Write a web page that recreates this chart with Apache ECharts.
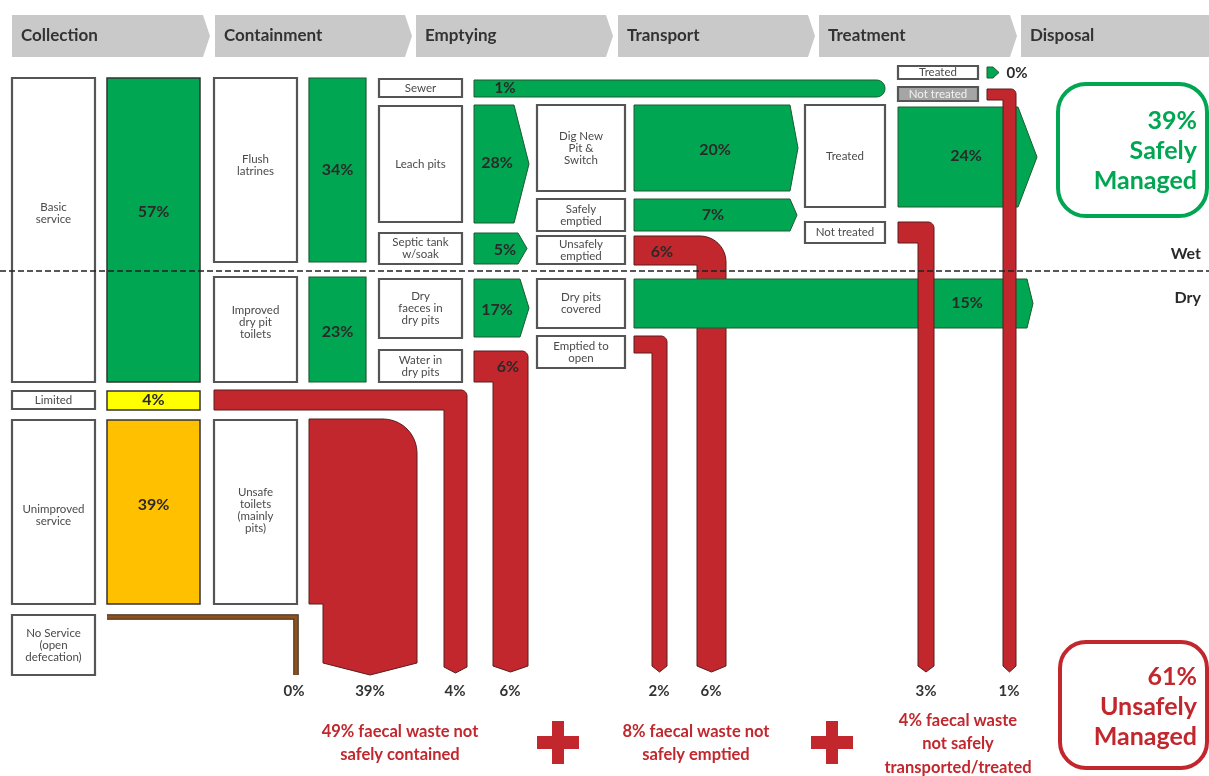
<!DOCTYPE html>
<html><head><meta charset="utf-8">
<script src="https://cdn.jsdelivr.net/npm/echarts@6/dist/echarts.min.js"></script>
<style>html,body{margin:0;padding:0;background:#fff}#c{width:1209px;height:776px}</style>
</head><body><div id="c"></div>
<script>
// ================= DATA =================
const stageNames = ['Collection','Containment','Emptying','Transport','Treatment','Disposal'];
const collectionLabels = ['Basic\nservice','Limited','Unimproved\nservice','No Service\n(open\ndefecation)'];
const collectionValues = [57, 4, 39, 0];
const containmentLabels = ['Flush\nlatrines','Improved\ndry pit\ntoilets','Unsafe\ntoilets\n(mainly\npits)'];
const containmentValues = [34, 23, 39];
const emptyingLabels = ['Sewer','Leach pits','Septic tank\nw/soak','Dry\nfaeces in\ndry pits','Water in\ndry pits'];
const emptyingValues = [1, 28, 5, 17, 6];
const transportLabels = ['Dig New\nPit &\nSwitch','Safely\nemptied','Unsafely\nemptied','Dry pits\ncovered','Emptied to\nopen'];
const transportValues = [20, 7, 6, 15, 2];
const treatmentLabels = ['Treated','Not treated','Treated','Not treated'];
const treatmentValues = [24, 3, 0, 1];
const unsafeValues = [0, 39, 4, 6, 2, 6, 3, 1];
const unsafeGroupValues = [49, 8, 4];
const unsafeGroupTexts = [' faecal waste not\nsafely contained', ' faecal waste not\nsafely emptied', ' faecal waste\nnot safely\ntransported/treated'];
const summaryValues = [39, 61];
const summaryLabels = ['Safely\nManaged', 'Unsafely\nManaged'];
const zoneLabels = ['Wet', 'Dry'];

// ================= LAYOUT (geometry & style) =================
const GREEN = '#00a651', RED = '#c1272d', ORANGE = '#ffc000', YELLOW = '#ffff00',
      BROWN = '#8c5220', HEAD = '#c9c9c9', BORDER = '#555555', DARK = '#2a2a2a';
const FONT = 'Lato, "Open Sans", sans-serif';

const headerLayout = {y0: 15, y1: 57, tip: 7, segs: [[12,203],[215,405],[416,606],[618,808],[819,1010],[1021,1215]]};
const collBoxLayout = [[12,78,95,382,213],[12,391,95,409,400],[12,420,95,604,515],[12,615,95,675,645]];
const collFillLayout = [[107,78,200,382,212],[107,391,200,410,400],[107,420,200,604,505]];
const collFillColors = [GREEN, YELLOW, ORANGE];
const contBoxLayout = [[214,78,297,262,165],[214,277,297,382,322],[214,420,297,604,510]];
const contFillLayout = [[309,78,366,262,170],[309,277,366,382,332]];
const emptBoxLayout = [[379,79,462,97],[379,106,462,222],[379,233,462,264],[379,279,462,338],[379,350,462,382]];
const transBoxLayout = [[537,105,625,191],[537,199,625,231],[537,236,625,264],[537,279,625,328],[537,336,625,368]];
const treatBoxLayout = [[805,105,885,207],[805,222,885,243],[898,66,978,79],[898,87,978,101]];

// chevrons: [x0,y0,x1,y1,tipX, labelX,labelY]
const emptChevLayout = {1:[474,105,514,223,529,497,163], 2:[474,233,518,264,527,505,250], 3:[474,279,520,337,529,497,310]};
const transChevLayout = {0:[634,105,790,191,798,715,150], 1:[634,199,790,231,797,713,215], 3:[634,279,1027,328,1033,967,303]};
const treatChevLayout = {0:[898,107,1018,207,1037,966,156], 2:[987,67,993,78,999,1017,73]};
// red flows: l,t,r,step,stem,rad,b,tip,labelX,labelY
const redLayout = {
  limited: {l:214,t:390,r:467,step:410,stem:444,rad:6,b:673,tip:6},
  unsafe:  {l:309,t:419,r:417,step:604,stem:323,rad:34,b:675,tip:12},
  emptRed: {l:474,t:351,r:528,step:382,stem:493,rad:6,b:672,tip:6,lx:508,ly:367},
  transRed:{l:634,t:236,r:726,step:265,stem:697,rad:26,b:672,tip:6,lx:662,ly:252},
  openRed: {l:634,t:336,r:667,step:353,stem:652,rad:6,b:672,tip:6},
  treatRed:{l:898,t:222,r:934,step:243,stem:918,rad:6,b:672,tip:6},
  sewerRed:{l:987,t:89,r:1016,step:100,stem:1003,rad:5,b:672,tip:6}
};
const sewerBarLayout = [474,80,885,97,505,88];
const unsafeLabelX = [294,370,455,510,659,711,926,1009];
const groupTextLayout = [[400,743],[696,743],[958,744]];
const plusLayout = [558, 832];

// ================= BUILD SHAPES =================
const shapes = [];
const add = s => shapes.push(s);
const rect = (b, fill, stroke, lw, r) => add({kind:'rect', x0:b[0], y0:b[1], x1:b[2], y1:b[3], fill, stroke, lw, r});
const poly = (pts, fill, stroke, lw) => add({kind:'poly', pts, fill, stroke, lw});
const text = (x, y, t, size, weight, color, align, lh) => add({kind:'text', x, y, text:t, size, weight, color, align, lh});
const pct = v => v + '%';
const chev = c => [[c[0],c[1]],[c[2],c[1]],[c[4],(c[1]+c[3])/2],[c[2],c[3]],[c[0],c[3]]];
function redPts(f){
  const p = [[f.l,f.t]];
  const cx = f.r - f.rad, cy = f.t + f.rad;
  for (let k = 0; k <= 10; k++) { const a = -Math.PI/2 + k*(Math.PI/2)/10; p.push([cx + f.rad*Math.cos(a), cy + f.rad*Math.sin(a)]); }
  p.push([f.r, f.b - f.tip], [(f.r + f.stem)/2, f.b], [f.stem, f.b - f.tip], [f.stem, f.step], [f.l, f.step]);
  return p;
}
const labelBox = (b, t, ty, fill, color) => { rect(b, fill || '#fff', BORDER, 2.2, 0); text((b[0]+b[2])/2, ty != null ? ty : (b[1]+b[3])/2, t, 11.5, 'normal', color || '#4a4a4a', 'center', 12); };
const GSTROKE = '#1e5a32', RSTROKE = '#5a1c1c';

// header
headerLayout.segs.forEach((s, i) => {
  const y0 = headerLayout.y0, y1 = headerLayout.y1;
  poly([[s[0],y0],[s[1],y0],[s[1]+headerLayout.tip,(y0+y1)/2],[s[1],y1],[s[0],y1]], HEAD, null, 0);
  text(s[0]+9, 36, stageNames[i], 17, 'bold', '#333', 'left');
});

// collection
collBoxLayout.forEach((b, i) => labelBox(b, collectionLabels[i], b[4]));
collFillLayout.forEach((b, i) => { rect(b, collFillColors[i], '#333', 1.5, 0); text((b[0]+b[2])/2, b[4], pct(collectionValues[i]), 16, 'bold', DARK, 'center'); });
// brown no-service line
add({kind:'line', pts:[[107,617],[296,617],[296,675]], stroke:'#3b2410', lw:5.5});
add({kind:'line', pts:[[107,617],[296,617],[296,675]], stroke:BROWN, lw:3.5});

// containment
contBoxLayout.forEach((b, i) => labelBox(b, containmentLabels[i], b[4]));
contFillLayout.forEach((b, i) => { rect(b, GREEN, GSTROKE, 1.2, 0); text((b[0]+b[2])/2, b[4], pct(containmentValues[i]), 16, 'bold', DARK, 'center'); });
poly(redPts(redLayout.limited), RED, RSTROKE, 1);
poly(redPts(redLayout.unsafe), RED, RSTROKE, 1);

// emptying
emptBoxLayout.forEach((b, i) => labelBox(b, emptyingLabels[i]));
(function(){
  const s = sewerBarLayout, rr = (s[3]-s[1])/2, cx = s[2]-rr, cy = (s[1]+s[3])/2;
  const p = [[s[0],s[1]]];
  for (let k = 0; k <= 12; k++) { const a = -Math.PI/2 + k*Math.PI/12; p.push([cx + rr*Math.cos(a), cy + rr*Math.sin(a)]); }
  p.push([s[0],s[3]]);
  poly(p, GREEN, GSTROKE, 1);
  text(s[4], s[5], pct(emptyingValues[0]), 15, 'bold', DARK, 'center');
})();
Object.keys(emptChevLayout).forEach(k => { const c = emptChevLayout[k]; poly(chev(c), GREEN, GSTROKE, 1); text(c[5], c[6], pct(emptyingValues[k]), 16, 'bold', DARK, 'center'); });
poly(redPts(redLayout.emptRed), RED, RSTROKE, 1);
text(redLayout.emptRed.lx, redLayout.emptRed.ly, pct(emptyingValues[4]), 16, 'bold', DARK, 'center');

// transport
transBoxLayout.forEach((b, i) => labelBox(b, transportLabels[i]));
[0,1].forEach(k => { const c = transChevLayout[k]; poly(chev(c), GREEN, GSTROKE, 1); text(c[5], c[6], pct(transportValues[k]), 16, 'bold', DARK, 'center'); });
poly(redPts(redLayout.transRed), RED, RSTROKE, 1);
text(redLayout.transRed.lx, redLayout.transRed.ly, pct(transportValues[2]), 16, 'bold', DARK, 'center');
(function(){ const c = transChevLayout[3]; poly(chev(c), GREEN, GSTROKE, 1); text(c[5], c[6], pct(transportValues[3]), 16, 'bold', DARK, 'center'); })();
poly(redPts(redLayout.openRed), RED, RSTROKE, 1);

// treatment
treatBoxLayout.forEach((b, i) => {
  if (i === 3) labelBox(b, treatmentLabels[i], null, '#a5a5a5', '#f2f2f2');
  else labelBox(b, treatmentLabels[i]);
});
(function(){ const c = treatChevLayout[0]; poly(chev(c), GREEN, GSTROKE, 1); text(c[5], c[6], pct(treatmentValues[0]), 16, 'bold', DARK, 'center'); })();
(function(){ const c = treatChevLayout[2]; poly(chev(c), GREEN, GSTROKE, 1); text(c[5], c[6], pct(treatmentValues[2]), 15, 'bold', DARK, 'center'); })();
poly(redPts(redLayout.treatRed), RED, RSTROKE, 1);
poly(redPts(redLayout.sewerRed), RED, RSTROKE, 1);

// wet / dry divider
add({kind:'line', pts:[[0,271],[1209,271]], stroke:'#222', lw:1.6, dash:[6,3]});
text(1201, 254, zoneLabels[0], 16, 'bold', DARK, 'right');
text(1201, 298, zoneLabels[1], 16, 'bold', DARK, 'right');

// summary boxes
rect([1058,84,1207,216], '#fff', GREEN, 4, 28);
text(1197, 151, pct(summaryValues[0]) + '\n' + summaryLabels[0], 25, 'bold', GREEN, 'right', 30);
rect([1060,642,1207,768], '#fff', RED, 4, 26);
text(1197, 707, pct(summaryValues[1]) + '\n' + summaryLabels[1], 25, 'bold', RED, 'right', 30);

// bottom unsafe values
unsafeValues.forEach((v, i) => text(unsafeLabelX[i], 691, pct(v), 15, 'bold', '#333', 'center'));
unsafeGroupValues.forEach((v, i) => text(groupTextLayout[i][0], groupTextLayout[i][1], pct(v) + unsafeGroupTexts[i], 16.5, 'bold', RED, 'center', 23.5));
plusLayout.forEach(x => { rect([x-21,736,x+21,749], RED, null, 0, 0); rect([x-6,721,x+6,764], RED, null, 0, 0); });

// ================= RENDER =================
function renderItem(params, api) {
  const s = shapes[params.dataIndex];
  const C = (x, y) => api.coord([x, y]);
  if (s.kind === 'poly') return {type:'polygon', shape:{points:s.pts.map(p => C(p[0], p[1]))}, style:{fill:s.fill, stroke:s.stroke || null, lineWidth:s.lw || 0}};
  if (s.kind === 'rect') { const a = C(s.x0, s.y0), b = C(s.x1, s.y1); return {type:'rect', shape:{x:a[0], y:a[1], width:b[0]-a[0], height:b[1]-a[1], r:s.r || 0}, style:{fill:s.fill, stroke:s.stroke || null, lineWidth:s.lw || 0}}; }
  if (s.kind === 'line') return {type:'polyline', shape:{points:s.pts.map(p => C(p[0], p[1]))}, style:{fill:null, stroke:s.stroke, lineWidth:s.lw, lineDash:s.dash || null}};
  const a = C(s.x, s.y);
  return {type:'text', style:{text:s.text, x:a[0], y:a[1], fill:s.color, fontSize:s.size, fontWeight:s.weight, fontFamily:FONT, align:s.align || 'center', verticalAlign:'middle', lineHeight:s.lh || s.size * 1.2}};
}

const chart = echarts.init(document.getElementById('c'), null, {renderer:'canvas'});
chart.setOption({
  animation: false,
  backgroundColor: '#ffffff',
  grid: {left:0, right:0, top:0, bottom:0},
  xAxis: {type:'value', min:0, max:1209, show:false},
  yAxis: {type:'value', min:0, max:776, inverse:true, show:false},
  series: [{type:'custom', renderItem, clip:false, silent:true, data: shapes.map(() => [0, 0])}]
});
</script></body></html>
